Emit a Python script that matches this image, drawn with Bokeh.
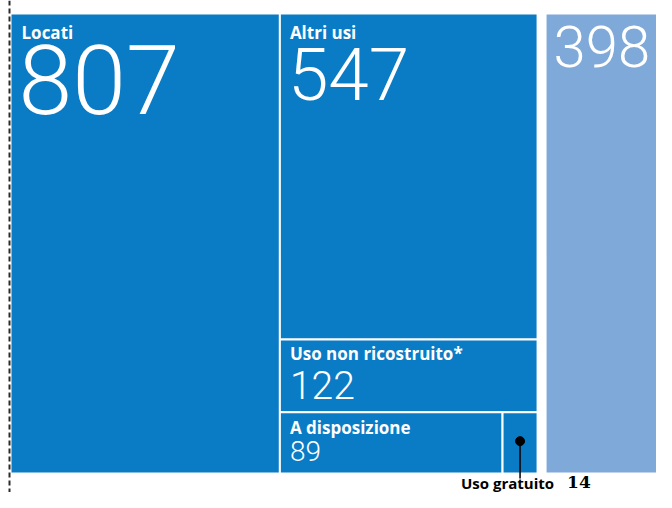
from bokeh.plotting import figure
from bokeh.models import Range1d, ColumnDataSource
from bokeh.core.properties import value
from bokeh.embed import file_html
from bokeh.resources import INLINE

# ---- data ----
left_label = "Locati"
left_value = 807
mid_labels = ["Altri usi", "Uso non ricostruito*"]
mid_values = [547, 122]
bottom_labels = ["A disposizione", "Uso gratuito"]
bottom_values = [89, 14]
right_value = 398

# ---- layout / style constants (figure pixel space, y downwards) ----
W, H = 656, 492
X0, Y0, HT = 10, 13, 460
K = 0.3338          # px of width per unit of value
GROUP_GAP = 8
BLUE = "#0a7bc5"
LIGHT = "#7fa9d9"
NUM_FONT = value("Roboto Light")
LAB_FONT = value("Open Sans")
SHIFT = 0.36        # baseline compensation (fraction of font size)

p = figure(width=W, height=H, output_backend="svg", toolbar_location=None,
           x_range=Range1d(0, W), y_range=Range1d(H, 0), min_border=0)
p.axis.visible = False
p.grid.visible = False
p.outline_line_color = None
p.background_fill_color = "white"

# treemap layout computed from values
mid_total = sum(mid_values) + sum(bottom_values)
lx0, lx1 = X0, X0 + left_value * K
mx0, mx1 = lx1, lx1 + mid_total * K
rx0, rx1 = mx1 + GROUP_GAP, mx1 + GROUP_GAP + right_value * K

rects = {"l": [], "r": [], "t": [], "b": [], "c": []}
def add(l, r, t, b, c):
    rects["l"].append(l); rects["r"].append(r)
    rects["t"].append(t); rects["b"].append(b); rects["c"].append(c)

add(lx0, lx1, Y0, Y0 + HT, BLUE)
y = Y0
mid_tops = []
for v in mid_values:
    h = v / mid_total * HT
    add(mx0, mx1, y, y + h, BLUE)
    mid_tops.append(y)
    y += h
bot_top = y
bsum = sum(bottom_values)
x = mx0
bot_lefts = []
for v in bottom_values:
    w = v / bsum * (mx1 - mx0)
    add(x, x + w, bot_top, Y0 + HT, BLUE)
    bot_lefts.append(x)
    x += w
add(rx0, rx1, Y0, Y0 + HT, LIGHT)

p.quad(left="l", right="r", top="t", bottom="b", fill_color="c",
       line_color="white", line_width=2, source=ColumnDataSource(rects))

# dashed vertical reference line at the left
p.segment(x0=[X0 - 1], y0=[0], x1=[X0 - 1], y1=[H], line_color="#2a2a2a",
          line_width=2, line_dash="5 3")

def label(xx, base, txt, size, font=LAB_FONT, style="bold", color="white", align="left"):
    p.text(x=[xx], y=[base - SHIFT * size], text=[txt], text_font=font,
           text_font_size=f"{size}px", text_font_style=style, text_color=color,
           text_baseline="alphabetic", text_align=align)

# Locati
label(lx0 + 11, Y0 + 25, left_label, 17)
label(lx0 + 8, Y0 + 101, str(left_value), 97, font=NUM_FONT, style="normal")
# Altri usi
label(mx0 + 10, mid_tops[0] + 25, mid_labels[0], 17)
label(mx0 + 8, mid_tops[0] + 87, str(mid_values[0]), 73, font=NUM_FONT, style="normal")
# Uso non ricostruito
label(mx0 + 10, mid_tops[1] + 20, mid_labels[1], 17)
label(mx0 + 10, mid_tops[1] + 60, str(mid_values[1]), 39, font=NUM_FONT, style="normal")
# A disposizione
label(bot_lefts[0] + 10, bot_top + 21, bottom_labels[0], 17)
label(bot_lefts[0] + 10, bot_top + 49, str(bottom_values[0]), 28, font=NUM_FONT, style="normal")
# right block
label(rx0 + 8, Y0 + 54, str(right_value), 58, font=NUM_FONT, style="normal")

# Uso gratuito callout
gx = bot_lefts[1] + (mx1 - bot_lefts[1]) / 2
gy = bot_top + 29
p.segment(x0=[gx], y0=[gy], x1=[gx], y1=[Y0 + HT + 5], line_color="black", line_width=1.5)
p.scatter(x=[gx], y=[gy], size=9, color="black")
label(gx + 34, Y0 + HT + 15, bottom_labels[1], 15, color="black", align="right")
label(gx + 47, Y0 + HT + 15, str(bottom_values[1]), 17, font=value("DejaVu Serif"), color="black")

open("out.html", "w").write(file_html(p, INLINE))
